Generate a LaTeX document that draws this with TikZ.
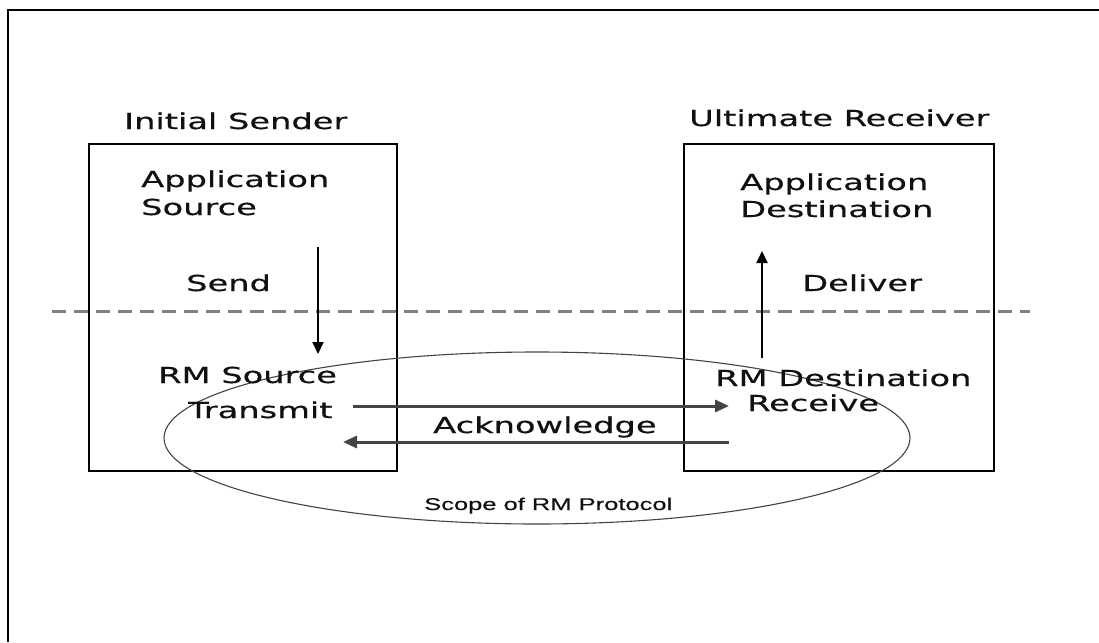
\documentclass[tikz,border=0pt]{standalone}
\usepackage{fontspec}
\setmainfont{DejaVu Sans}[FakeStretch=1.53,FakeBold=0.4]
\newfontfamily\scopefont{Liberation Sans}[FakeStretch=1.5,FakeBold=0.3]
\usetikzlibrary{arrows.meta}
\definecolor{dashgray}{HTML}{808080}
\definecolor{flowgray}{HTML}{444444}
\definecolor{inkblack}{HTML}{111111}
\begin{document}
\begin{tikzpicture}[x=1pt,y=-1pt,
  label/.style={anchor=base west,inner sep=0pt,text=inkblack,
    font=\fontsize{22}{27}\selectfont},
  scopelabel/.style={anchor=base west,inner sep=0pt,text=inkblack,
    font=\scopefont\fontsize{17}{20}\selectfont},
  hostbox/.style={draw=black,line width=2.2pt,minimum width=308pt,
    minimum height=327pt,inner sep=0pt},
  vflow/.style={line width=2pt,draw=black,
    -{Triangle[length=12pt,width=11pt]}},
  hflow/.style={line width=3pt,draw=flowgray,
    -{Triangle[length=14pt,width=12pt]}},
  layerline/.style={draw=dashgray,line width=3pt,dash pattern=on 14pt off 8pt},
  scopering/.style={draw=flowgray,line width=1.1pt}]
\useasboundingbox (0,0) rectangle (1099,642);
\fill[white] (0,0) rectangle (1099,642);

% outer frame (only its top and left edges fall on the page)
\draw[line width=2.2pt] (1099,10) -- (8,10) -- (8,642);

% the two endpoints
\node[hostbox] (sender) at (243,307.5) {};
\node[hostbox,minimum width=310pt] (receiver) at (839,307.5) {};
\node[label] (sendertitle) at (124,129) {Initial Sender};
\node[label] (receivertitle) at (689,126) {Ultimate Receiver};

% boundary between application layer and RM layer
\draw[layerline] (52,311) -- (1030,311);

% scope of the reliable messaging protocol
\draw[scopering] (537,438) ellipse [x radius=373, y radius=86];
\node[scopelabel] (scope) at (424,510) {Scope of RM Protocol};

% sender side
\node[label] (appsrc1) at (141,187) {Application};
\node[label] (appsrc2) at (141,215) {Source};
\node[label] (send) at (186,291) {Send};
\node[label] (rmsrc) at (158,383) {RM Source};
\node[label] (transmit) at (188,418) {Transmit};

% receiver side
\node[label] (appdst1) at (740,190) {Application};
\node[label] (appdst2) at (740,217) {Destination};
\node[label] (deliver) at (802,291) {Deliver};
\node[label] (rmdst) at (715,386) {RM Destination};
\node[label] (receive) at (747,411) {Receive};

\node[label] (ack) at (433,433) {Acknowledge};

% arrow end points
\coordinate (sendfrom) at (318,247);
\coordinate (sendto) at (318,354);
\coordinate (deliverfrom) at (762,358);
\coordinate (deliverto) at (762,251);
\coordinate (txfrom) at (353,406);
\coordinate (txto) at (729,406);
\coordinate (ackfrom) at (729,442);
\coordinate (ackto) at (343,442);

\draw[vflow] (sendfrom) -- (sendto);
\draw[vflow] (deliverfrom) -- (deliverto);
\draw[hflow] (txfrom) -- (txto);
\draw[hflow] (ackfrom) -- (ackto);
\end{tikzpicture}
\end{document}
